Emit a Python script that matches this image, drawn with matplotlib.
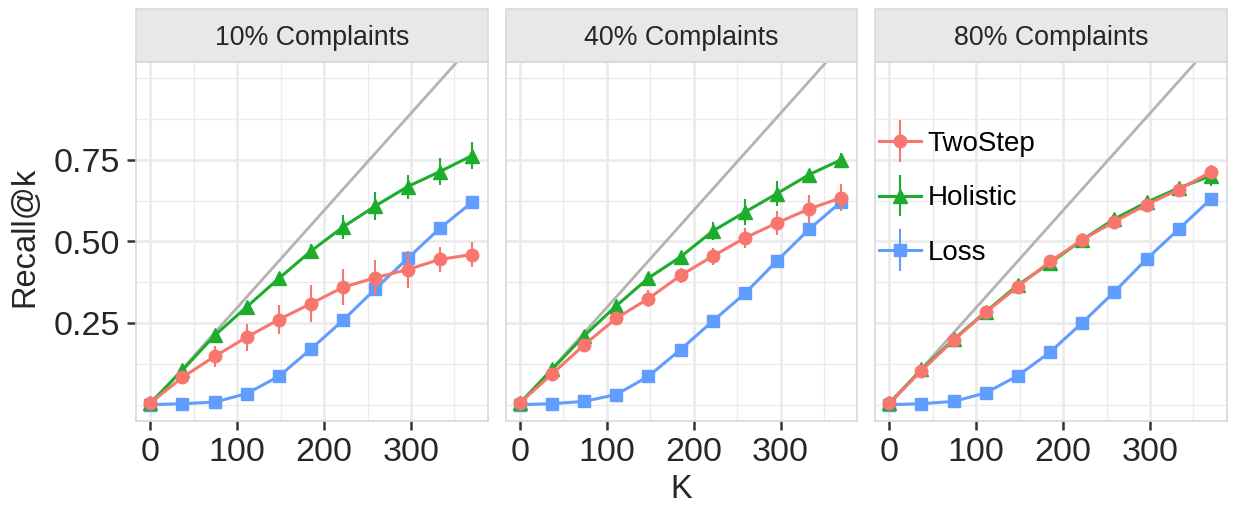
import matplotlib.pyplot as plt
from matplotlib.patches import Rectangle
from matplotlib.container import ErrorbarContainer
from matplotlib.legend_handler import HandlerErrorbar

plt.rcParams['font.family'] = ['Liberation Sans', 'DejaVu Sans']

# K values (x axis), same in every facet
k = [0, 37, 74, 111, 148, 185, 222, 259, 296, 333, 370]
facets = ['10% Complaints', '40% Complaints', '80% Complaints']
ideal_slope = 1 / 336  # grey reference line: perfect recall

# recall@k means
twostep_10 = [0.005, 0.084, 0.148, 0.207, 0.261, 0.310, 0.360, 0.389, 0.414, 0.445, 0.460]
holistic_10 = [0.005, 0.106, 0.212, 0.300, 0.387, 0.471, 0.545, 0.609, 0.668, 0.714, 0.763]
loss_10 = [0.0, 0.003, 0.008, 0.034, 0.087, 0.171, 0.259, 0.355, 0.448, 0.540, 0.620]

twostep_40 = [0.005, 0.094, 0.183, 0.265, 0.325, 0.396, 0.455, 0.511, 0.557, 0.600, 0.634]
holistic_40 = [0.005, 0.108, 0.211, 0.303, 0.388, 0.453, 0.532, 0.590, 0.647, 0.705, 0.751]
loss_40 = [0.0, 0.003, 0.010, 0.031, 0.087, 0.169, 0.256, 0.341, 0.441, 0.538, 0.622]

twostep_80 = [0.005, 0.104, 0.198, 0.283, 0.362, 0.439, 0.505, 0.561, 0.613, 0.659, 0.713]
holistic_80 = [0.005, 0.108, 0.200, 0.285, 0.367, 0.434, 0.505, 0.569, 0.620, 0.664, 0.701]
loss_80 = [0.0, 0.003, 0.010, 0.036, 0.089, 0.161, 0.251, 0.346, 0.446, 0.538, 0.630]

# error bar half-lengths
twostep_err_10 = [0.005, 0.012, 0.033, 0.041, 0.045, 0.056, 0.055, 0.054, 0.056, 0.039, 0.037]
holistic_err_10 = [0.005, 0.010, 0.012, 0.012, 0.015, 0.022, 0.037, 0.042, 0.037, 0.042, 0.041]
twostep_err_40 = [0.005, 0.012, 0.015, 0.015, 0.025, 0.024, 0.026, 0.030, 0.036, 0.043, 0.041]
holistic_err_40 = [0.005, 0.010, 0.012, 0.012, 0.015, 0.015, 0.028, 0.040, 0.038, 0.015, 0.020]
twostep_err_80 = [0.005, 0.008, 0.008, 0.010, 0.012, 0.010, 0.012, 0.012, 0.012, 0.015, 0.020]
holistic_err_80 = [0.005, 0.008, 0.010, 0.010, 0.012, 0.012, 0.015, 0.015, 0.015, 0.015, 0.030]
loss_err = [0.0, 0.002, 0.003, 0.004, 0.005, 0.006, 0.006, 0.006, 0.006, 0.006, 0.006]

data = [
    (twostep_10, twostep_err_10, holistic_10, holistic_err_10, loss_10),
    (twostep_40, twostep_err_40, holistic_40, holistic_err_40, loss_40),
    (twostep_80, twostep_err_80, holistic_80, holistic_err_80, loss_80),
]

RED = '#F8766D'
GREEN = '#1DAD2C'
BLUE = '#619CFF'
TXT = '#262626'

W, H = 1233, 505
fig = plt.figure(figsize=(W / 100, H / 100), dpi=100)

lefts = [136, 505.5, 875]
pw, top, bottom = 351.5, 62, 421
strip_h = 53.5

for i, left in enumerate(lefts):
    ax = fig.add_axes([left / W, 1 - bottom / H, pw / W, (bottom - top) / H])
    ax.set_xlim(-16.5, 388)
    ax.set_ylim(-0.05, 1.05)

    ax.set_xticks([0, 100, 200, 300])
    ax.set_xticks([50, 150, 250, 350], minor=True)
    ax.set_yticks([0.25, 0.5, 0.75])
    ax.set_yticks([0, 0.125, 0.375, 0.625, 0.875, 1.0], minor=True)
    ax.grid(which='major', color='#EBEBEB', lw=2.0, zorder=0)
    ax.grid(which='minor', color='#EBEBEB', lw=1.0, zorder=0)
    ax.set_axisbelow(True)
    ax.tick_params(which='minor', length=0)
    ax.tick_params(which='major', length=6.3, width=1.8, color='#333333',
                   labelsize=24.5, labelcolor=TXT, pad=5)
    if i > 0:
        ax.tick_params(axis='y', length=0, labelleft=False)
    else:
        ax.set_yticklabels(['0.25', '0.50', '0.75'])
    for s in ax.spines.values():
        s.set_color('#D9D9D9')
        s.set_linewidth(1.2)

    # ideal line starting at the origin
    ideal_x = [k[0], ax.get_xlim()[1]]
    ax.plot(ideal_x, [x * ideal_slope for x in ideal_x], color='#B3B3B3', lw=2, zorder=1)

    ts, ts_err, ho, ho_err, lo = data[i]
    h_lo = ax.errorbar(k, lo, yerr=loss_err, fmt='s-', color=BLUE, ms=8, lw=2.2,
                       elinewidth=1.5, capsize=0, label='Loss', zorder=2)
    h_ho = ax.errorbar(k, ho, yerr=ho_err, fmt='^-', color=GREEN, ms=10, lw=2.2,
                       elinewidth=1.5, capsize=0, label='Holistic', zorder=3)
    h_ts = ax.errorbar(k, ts, yerr=ts_err, fmt='o-', color=RED, ms=9, lw=2.2,
                       elinewidth=1.5, capsize=0, label='TwoStep', zorder=4)

    # facet strip
    ax.add_patch(Rectangle((0, 1), 1, strip_h / (bottom - top), transform=ax.transAxes,
                           facecolor='#E8E8E8', edgecolor='#D9D9D9', lw=1.2, clip_on=False))
    ax.text(0.5, 1 + (strip_h / 2 - 2.5) / (bottom - top), facets[i], transform=ax.transAxes,
            ha='center', va='center', fontsize=19.3, color=TXT)

    if i == 2:
        ax.legend([h_ts, h_ho, h_lo], ['TwoStep', 'Holistic', 'Loss'],
                  loc='upper left', bbox_to_anchor=(0.011, 0.808), frameon=False,
                  fontsize=20, borderpad=0, handlelength=1.5, handletextpad=0.25,
                  labelspacing=1.02, borderaxespad=0,
                  handler_map={ErrorbarContainer: HandlerErrorbar(yerr_size=0.75)})

fig.text(680.7 / W, 1 - 490 / H, 'K', ha='center', va='center', fontsize=23.5, color=TXT)
fig.text(25 / W, 1 - 237 / H, 'Recall@k', ha='center', va='center', rotation=90,
         fontsize=23.5, color=TXT)

fig.savefig('out.png', dpi=100, facecolor='white')
